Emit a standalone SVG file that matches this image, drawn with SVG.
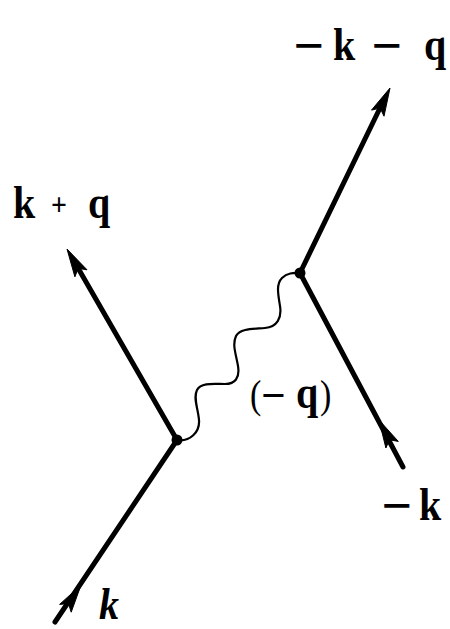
<svg xmlns="http://www.w3.org/2000/svg" width="450" height="629" viewBox="0 0 450 629">
<style>
.ln{stroke:#000;stroke-width:5;fill:none;stroke-linecap:round}
.ph{stroke:#000;stroke-width:2.2;fill:none}
.ah{fill:#000;stroke:#000;stroke-width:1;stroke-linejoin:round}
.lb{font-family:"Liberation Serif","Times New Roman",serif;font-weight:bold;font-size:40px;fill:#000}
.mn{font-family:"DejaVu Sans",sans-serif;font-weight:normal}
.thin{font-weight:normal}
</style>
<rect width="450" height="629" fill="#fff"/>
<g id="connectors">
<path class="ln" d="M55,622 L177,440"/>
<path class="ln" d="M177,440 L78,268"/>
<path class="ln" d="M300,273 L380,108"/>
<path class="ln" d="M403,467 L300,273"/>
<path class="ph" d="M177,440 C190,442 200,432 199,420 C198,408 193,398 197,390 C201,382 215,384 225,384 C235,384 240,378 238,366 C236,354 232,345 236,336 C240,328 255,329 265,328 C277,327 282,318 280,306 C278,294 276,284 282,278 C288,272 295,273 300,273"/>
<polygon class="ah" points="67,249 87,269.8 78.2,268.4 74.9,276.8"/>
<polygon class="ah" points="390,88 384,116.2 380.2,108.1 371.5,110.1"/>
<polygon class="ah" points="379,420 398.3,441.4 389.5,439.8 385.9,448"/>
<polygon class="ah" points="81,585 71.2,612.2 68.5,603.6 59.6,604.4"/>
</g>
<g id="vertex-left"><circle cx="177" cy="440" r="5.5"/></g>
<g id="vertex-right"><circle cx="300" cy="273" r="5.5"/></g>
<g id="label-out-right" transform="translate(0,60) scale(1,1.15)">
<text class="lb"><tspan class="mn" x="292" y="0">−</tspan><tspan x="333" y="0">k</tspan><tspan class="mn" x="370" y="0">−</tspan><tspan x="424" y="0">q</tspan></text>
</g>
<g id="label-out-left" transform="translate(0,218) scale(1,1.15)">
<text class="lb"><tspan x="13" y="0">k</tspan><tspan x="51" y="-3" style="font-size:28px">+</tspan><tspan x="88" y="0">q</tspan></text>
</g>
<g id="label-photon" transform="translate(0,408) scale(1,1.15)">
<text class="lb"><tspan x="250" y="0" class="thin" style="font-size:34px">(</tspan><tspan class="mn" x="260" y="-1" style="font-size:32px">−</tspan><tspan x="296" y="0">q</tspan><tspan x="320" y="0" class="thin" style="font-size:34px">)</tspan></text>
</g>
<g id="label-in-right" transform="translate(0,520) scale(1,1.15)">
<text class="lb"><tspan class="mn" x="380" y="0">−</tspan><tspan x="419" y="0">k</tspan></text>
</g>
<g id="label-in-left" transform="translate(0,619) scale(1,1.12)">
<text class="lb" font-style="italic" x="99" y="0">k</text>
</g>
</svg>
